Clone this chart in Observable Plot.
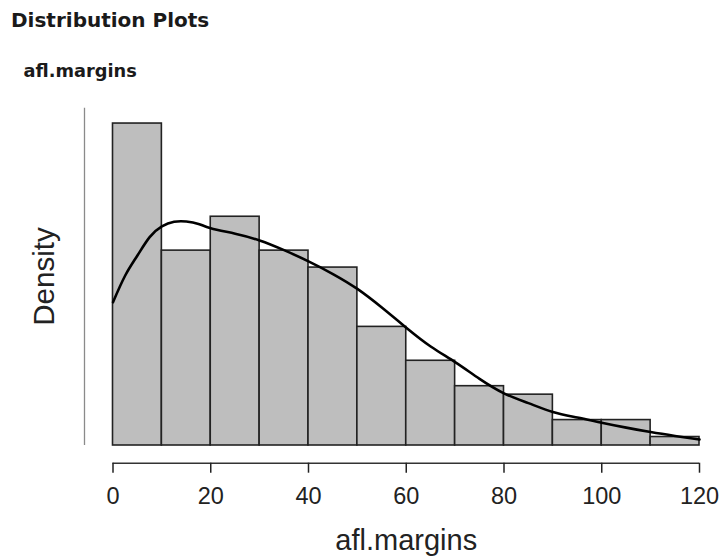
<!DOCTYPE html>
<html>
<head>
<meta charset="utf-8">
<script src="https://cdn.jsdelivr.net/npm/d3@7"></script>
<script src="https://cdn.jsdelivr.net/npm/@observablehq/plot@0.6"></script>
<style>
  html, body { margin: 0; padding: 0; background: #fff; }
  body { width: 720px; height: 557px; overflow: hidden; position: relative; }
  #title { position: absolute; left: 11px; top: 10.4px; font: bold 20px/20px "DejaVu Sans", sans-serif; color: #1a1a1a; white-space: nowrap; }
  #subtitle { position: absolute; left: 23.5px; top: 62.2px; font: bold 17.8px/17.8px "DejaVu Sans", sans-serif; color: #1a1a1a; white-space: nowrap; }
  #chart { position: absolute; left: 0; top: 90px; }
</style>
</head>
<body>
<div id="title">Distribution Plots</div>
<div id="subtitle">afl.margins</div>
<div id="chart"></div>
<script>
// Histogram bins (afl.margins), bin width 10
const binStart = [0, 10, 20, 30, 40, 50, 60, 70, 80, 90, 100, 110];
const binCounts = [38, 23, 27, 23, 21, 14, 10, 7, 6, 3, 3, 1];
const binWidth = 10;

// Kernel density curve
const densityX = [0, 2.5, 5, 7.5, 10, 12.5, 15, 17.5, 20, 25, 30, 35, 40, 45, 50, 55, 60, 65, 70, 75, 80, 85, 90, 95, 100, 105, 110, 115, 120];
const densityY = [0.00961, 0.0114, 0.01274, 0.01397, 0.01469, 0.0150, 0.01502, 0.01486, 0.01457, 0.0142, 0.01375, 0.0131, 0.01235, 0.0115, 0.0105, 0.00925, 0.0079, 0.00664, 0.00559, 0.00447, 0.0035, 0.00284, 0.00225, 0.00188, 0.00153, 0.0012, 0.0009, 0.00064, 0.0004];

const xTicks = [0, 20, 40, 60, 80, 100, 120];
const xDomain = [0, 120];
const yTop = 0.02262;

const N = d3.sum(binCounts);
const bars = binStart.map((s, i) => ({x1: s, x2: s + binWidth, density: binCounts[i] / (N * binWidth)}));
const curve = densityX.map((x, i) => ({x, y: densityY[i]}));

const chart = Plot.plot({
  width: 720,
  height: 467,
  marginLeft: 112.5,
  marginRight: 21,
  marginTop: 17.7,
  marginBottom: 94.3,
  style: {fontFamily: "'Liberation Sans', Arial, sans-serif", background: "#fff"},
  x: {domain: xDomain},
  y: {domain: [0, yTop], insetBottom: 17.7, axis: null},
  marks: [
    Plot.rectY(bars, {x1: "x1", x2: "x2", y: "density", fill: "#bebebe", stroke: "#222", strokeWidth: 1.6}),
    Plot.line(curve, {x: "x", y: "y", curve: "natural", stroke: "#000", strokeWidth: 2.6}),
    Plot.ruleX([0], {y1: 0, y2: yTop, dx: -28.5, stroke: "#8a8a8a", strokeWidth: 1.3}),
    Plot.ruleY([0], {dy: 17.7, stroke: "#333", strokeWidth: 1.5}),
    Plot.axisX({ticks: xTicks, tickSize: 10, tickPadding: 14, fontSize: 23.5, label: null, color: "#222", strokeWidth: 1.5}),
    Plot.text(["Density"], {frameAnchor: "left", textAnchor: "middle", lineAnchor: "middle", rotate: -90, dx: -68.6, dy: -9.2, fontSize: 29.5, fill: "#222"}),
    Plot.text(["afl.margins"], {frameAnchor: "bottom", textAnchor: "middle", lineAnchor: "middle", dy: 78, fontSize: 29, fill: "#222"})
  ]
});
document.getElementById("chart").appendChild(chart);
</script>
</body>
</html>
